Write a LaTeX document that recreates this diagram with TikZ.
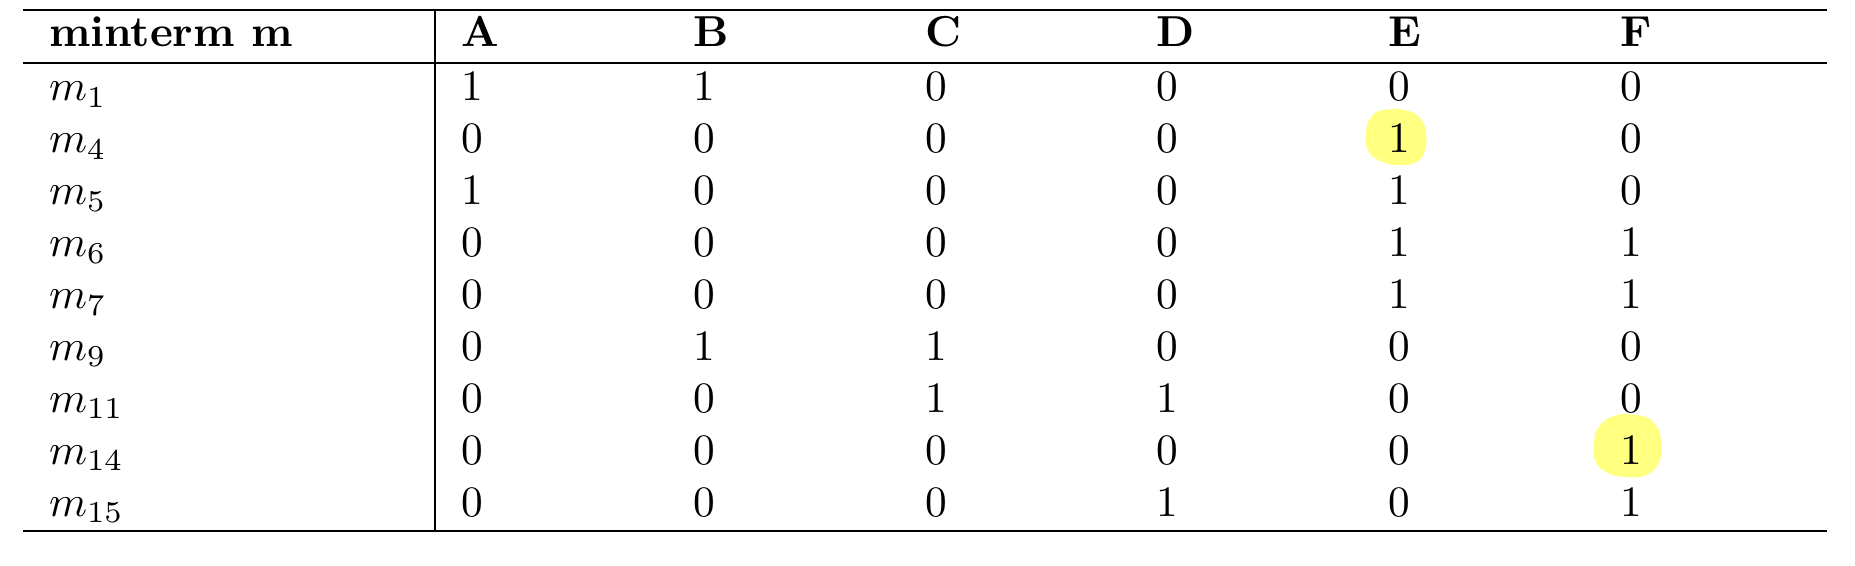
\documentclass[tikz,border=0pt]{standalone}
\definecolor{hilite}{RGB}{255,255,128}
\tikzset{
  txt/.style={anchor=base west, inner sep=0pt, outer sep=0pt},
  rulel/.style={line width=0.4pt, black},
  blob/.style={fill=hilite, draw=none}
}
\begin{document}
\begin{tikzpicture}[x=0.23077pt, y=-0.23077pt]
\useasboundingbox (0,0) rectangle (1855,566);
% highlights
\fill[blob] plot[smooth cycle, tension=0.8] coordinates {
  (1384,110) (1404,110) (1419,117) (1426,133) (1424,153) (1414,163)
  (1398,165) (1380,161) (1368,150) (1366,132) (1372,116)};
\fill[blob] plot[smooth cycle, tension=0.8] coordinates {
  (1614,416) (1636,415) (1653,422) (1661,440) (1659,462) (1646,475)
  (1626,477) (1606,472) (1595,460) (1594,444) (1598,428)};
% rules
\coordinate (tl) at (23,10.3);
\coordinate (tr) at (1827,10.3);
\coordinate (ml) at (23,63.3);
\coordinate (mr) at (1827,63.3);
\coordinate (bl) at (23,531);
\coordinate (br) at (1827,531);
\coordinate (vt) at (435.3,10.3);
\coordinate (vb) at (435.3,531);
\draw[rulel] (tl) -- (tr);
\draw[rulel] (ml) -- (mr);
\draw[rulel] (bl) -- (br);
\draw[rulel] (vt) -- (vb);
% header
\node[txt] (h0) at (49,46.7) {\textbf{minterm m}};
\foreach \h [count=\c] in {A,B,C,D,E,F}
  \node[txt] (h\c) at ({461.5+231.8*(\c-1)},46.7) {\textbf{\h}};
% body
\foreach \lab/\vals [count=\r] in {1/{1,1,0,0,0,0}, 4/{0,0,0,0,1,0}, 5/{1,0,0,0,1,0},
  6/{0,0,0,0,1,1}, 7/{0,0,0,0,1,1}, 9/{0,1,1,0,0,0}, 11/{0,0,1,1,0,0},
  14/{0,0,0,0,0,1}, 15/{0,0,0,1,0,1}} {
  \node[txt] (m\r) at (49,{100.7+51.95*(\r-1)}) {$m_{\lab}$};
  \foreach \v [count=\c] in \vals
    \node[txt] (v\r-\c) at ({461.5+231.8*(\c-1)},{100.7+51.95*(\r-1)}) {\v};
}
\end{tikzpicture}
\end{document}
